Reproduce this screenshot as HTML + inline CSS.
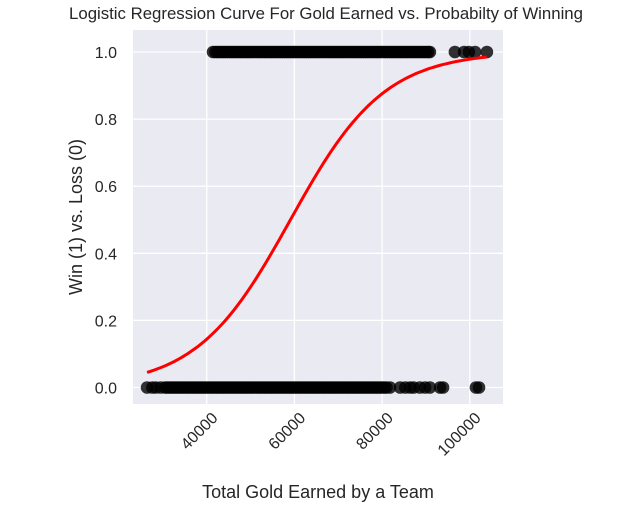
<!DOCTYPE html>
<html><head><meta charset="utf-8"><style>
body{margin:0;background:#fff;}
svg text{font-family:"Liberation Sans",Arial,sans-serif;fill:#262626;}
</style></head><body>
<svg id="chart" width="633" height="506" viewBox="0 0 633 506">
<text x="326" y="19" font-size="16.8" text-anchor="middle">Logistic Regression Curve For Gold Earned vs. Probabilty of Winning</text>
<rect x="133" y="30" width="370" height="374" fill="#eaeaf2"/>
<g id="grid"></g><g id="pts"></g><g id="curve"></g><g id="ticks"></g>
<text x="318" y="498" font-size="18" text-anchor="middle">Total Gold Earned by a Team</text>
<text transform="translate(82,217) rotate(-90)" font-size="18" text-anchor="middle">Win (1) vs. Loss (0)</text>
</svg>
<script>
const xTicks=[40000,60000,80000,100000];
const yTicks=[0,0.2,0.4,0.6,0.8,1.0];
const winGold=[41440,42000,42500,43000,43500,44000,44500,45000,45500,46000,46500,47000,47500,48000,48500,49000,49500,50000,50500,51000,51500,52000,52500,53000,53500,54000,54500,55000,55500,56000,56500,57000,57500,58000,58500,59000,59500,60000,60500,61000,61500,62000,62500,63000,63500,64000,64500,65000,65500,66000,66500,67000,67500,68000,68500,69000,69500,70000,70500,71000,71500,72000,72500,73000,73500,74000,74500,75000,75500,76000,76500,77000,77500,78000,78500,79000,79500,80000,80500,81000,81500,82000,82500,83000,83500,84000,84500,85000,85500,86000,86500,87000,87500,88000,88500,89000,89500,90000,90500,90900,96600,98700,99800,101200,103900];
const lossGold=[26400,27600,28400,29500,30500,31000,31500,32000,32500,33000,33500,34000,34500,35000,35500,36000,36500,37000,37500,38000,38500,39000,39500,40000,40500,41000,41500,42000,42500,43000,43500,44000,44500,45000,45500,46000,46500,47000,47500,48000,48500,49000,49500,50000,50500,51000,51500,52000,52500,53000,53500,54000,54500,55000,55500,56000,56500,57000,57500,58000,58500,59000,59500,60000,60500,61000,61500,62000,62500,63000,63500,64000,64500,65000,65500,66000,66500,67000,67500,68000,68500,69000,69500,70000,70500,71000,71500,72000,72500,73000,73500,74000,74500,75000,75500,76000,76500,77000,77500,78000,78500,79000,79500,80000,80500,81000,81800,84100,85300,86400,87200,88600,89800,90900,93200,93900,101400,102100];
const coefIntercept=[-5.52];
const coefSlope=[9.34e-5];
const NS='http://www.w3.org/2000/svg';
const X=v=>206.7+(v-40000)*0.004385;
const Y=v=>387.5-v*335.5;
function mk(tag,attrs,parent){const e=document.createElementNS(NS,tag);for(const k in attrs)e.setAttribute(k,attrs[k]);document.getElementById(parent).appendChild(e);return e;}
xTicks.forEach(t=>{const l=mk('line',{x1:X(t),x2:X(t),y1:30,y2:404,stroke:'#fff','stroke-width':1.3},'grid');


const tx=mk('text',{'font-size':16,'text-anchor':'end',transform:`translate(${X(t)+12},${419}) rotate(-45)`},'ticks');tx.textContent=t;

});
yTicks.forEach(t=>{const l=mk('line',{x1:133,x2:503,y1:Y(t),y2:Y(t),stroke:'#fff','stroke-width':1.3},'grid');


const tx=mk('text',{x:117,y:Y(t)+6,'font-size':16,'text-anchor':'end'},'ticks');tx.textContent=t.toFixed(1);

});
function dots(arr,y,name){arr.forEach(v=>{const c=mk('circle',{cx:X(v),cy:Y(y),r:6.3,fill:'#000','fill-opacity':0.8},'pts');

});}
dots(winGold,1,'win-point');dots(lossGold,0,'loss-point');
const xs=[...winGold,...lossGold];const lo=Math.min(...xs),hi=Math.max(...xs);
let d='';for(let i=0;i<=100;i++){const v=lo+(hi-lo)*i/100;const p=1/(1+Math.exp(-(coefIntercept[0]+coefSlope[0]*v)));d+=(i?'L':'M')+X(v).toFixed(1)+','+Y(p).toFixed(1);}
const pth=mk('path',{d:d,fill:'none',stroke:'#ff0000','stroke-width':3},'curve');


</script>
</body></html>
